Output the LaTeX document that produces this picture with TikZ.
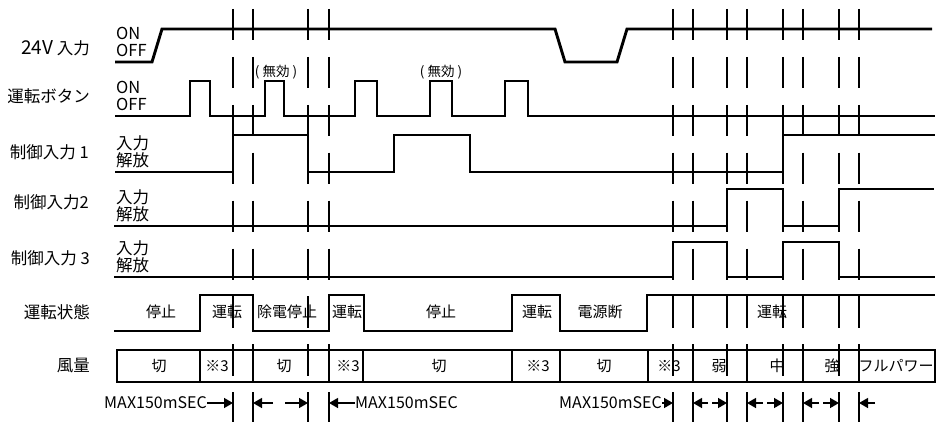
\documentclass[tikz,border=0pt]{standalone}
\usepackage{fontspec}
\setmainfont{Noto Sans CJK JP}
\usetikzlibrary{arrows.meta}
\newcommand{\fs}[1]{\fontsize{#1}{#1}\selectfont}

\begin{document}
\begin{tikzpicture}[x=1pt, y=-1pt,
    sig/.style={line width=2.9pt},
    marker/.style={line width=1.4pt, dash pattern=on 31.5pt off 16.4pt},
    rowlab/.style={anchor=east, inner sep=0pt, font=\fs{16.5}},
    lvl/.style={anchor=west, inner sep=0pt, font=\fs{16.5}},
    txt/.style={inner sep=0pt, font=\fs{15}},
    note/.style={inner sep=0pt, font=\fs{13.5}},
    maxlab/.style={inner sep=0pt, font=\fs{16}},
    dim/.style={line width=1.4pt, -{Triangle[length=9pt,width=10pt]}}]
\useasboundingbox (0,0) rectangle (944,422);

% timing markers
\foreach \x in {233, 253, 308, 329, 673, 693, 727, 747, 783, 803, 839, 859}
{
    \draw[marker] (\x,9) -- (\x,422);
}

% row names
\node[rowlab] (r1) at (90,48) {{\fs{19}24V} 入力};
\node[rowlab] (r2) at (90,96) {運転ボタン};
\node[rowlab] (r3) at (89,152) {制御入力 1};
\node[rowlab] (r4) at (89,202) {制御入力2};
\node[rowlab] (r5) at (90,258) {制御入力 3};
\node[rowlab] (r6) at (90,312) {運転状態};
\node[rowlab] (r7) at (90,366) {風量};

\foreach \y/\a/\b [count=\i] in {62/ON/OFF, 116/ON/OFF, 172/入力/解放, 226/入力/解放, 277/入力/解放}
{
    \node[lvl] (hi\i) at (116,\y-29) {\a};
    \node[lvl] (lo\i) at (116,\y-12) {\b};
}

% signals
\draw[sig] (115,62) -- (152,62) -- (162,29) -- (555,29) -- (565,62) -- (617,62) -- (627,29) -- (932,29);
\draw[sig] (115,116) -| (190,81) -| (210,116) -| (265,81) -| (284,116) -| (355,81) -| (377,116)
    -| (430,81) -| (452,116) -| (505,81) -| (528,116) -- (935,116);
\draw[sig] (115,172) -| (233,135) -| (308,172) -| (394,135) -| (470,172) -| (783,135) -- (935,135);
\draw[sig] (114,226) -| (727,189) -| (783,226) -| (839,189) -- (934,189);
\draw[sig] (114,277) -| (673,242) -| (727,277) -| (783,242) -| (839,277) -- (935,277);
\draw[sig] (114,331) -| (200,295) -| (253,331) -| (329,295) -| (364,331) -| (512,295) -| (560,331)
    -| (647,295) -- (935,295);

\node[note] (n1) at (276,72) {( 無効 )};
\node[note] (n2) at (441,72) {( 無効 )};

\foreach \x/\t [count=\i] in {161/停止, 227/運転, 287/除電停止, 347/運転, 441/停止, 537/運転, 600/電源断, 772/運転}
{
    \node[txt] (s\i) at (\x,312) {\t};
}

% fan table
\draw[sig] (117,350) rectangle (935,382);
\foreach \x in {200, 253, 329, 363, 512, 560, 648, 693, 747, 803, 859}
{
    \draw[sig] (\x,350) -- (\x,382);
}
\foreach \x/\t [count=\i] in {159/切, 217/※3, 284/切, 348/※3, 439/切, 538/※3, 604/切, 669/※3, 719/弱, 777/中, 832/強, 896/フルパワー}
{
    \node[txt] (f\i) at (\x,366) {\t};
}

% delays
\node[maxlab, anchor=east] (m1) at (207,403) {MAX150mSEC};
\node[maxlab, anchor=west] (m2) at (355,403) {MAX150mSEC};
\node[maxlab, anchor=east] (m3) at (662,403) {MAX150mSEC};
\coordinate (e1) at (233,403);
\coordinate (e2) at (329,403);
\coordinate (e3) at (673,403);
\draw[dim] (m1.east) -- (e1);
\draw[dim] (m2.west) -- (e2);
\draw[dim] (m3.east) -- (e3);

\foreach \a/\b/\c/\d [count=\i] in {253/273/285/308, 693/708/712/727, 747/763/767/783, 803/819/823/839}
{
    \coordinate (la\i) at (\a,403);
    \coordinate (ta\i) at (\b,403);
    \coordinate (tb\i) at (\c,403);
    \coordinate (lb\i) at (\d,403);
    \draw[dim] (ta\i) -- (la\i);
    \draw[dim] (tb\i) -- (lb\i);
}
\coordinate (e4) at (859,403);
\coordinate (t4) at (875,403);
\draw[dim] (t4) -- (e4);
\end{tikzpicture}
\end{document}
